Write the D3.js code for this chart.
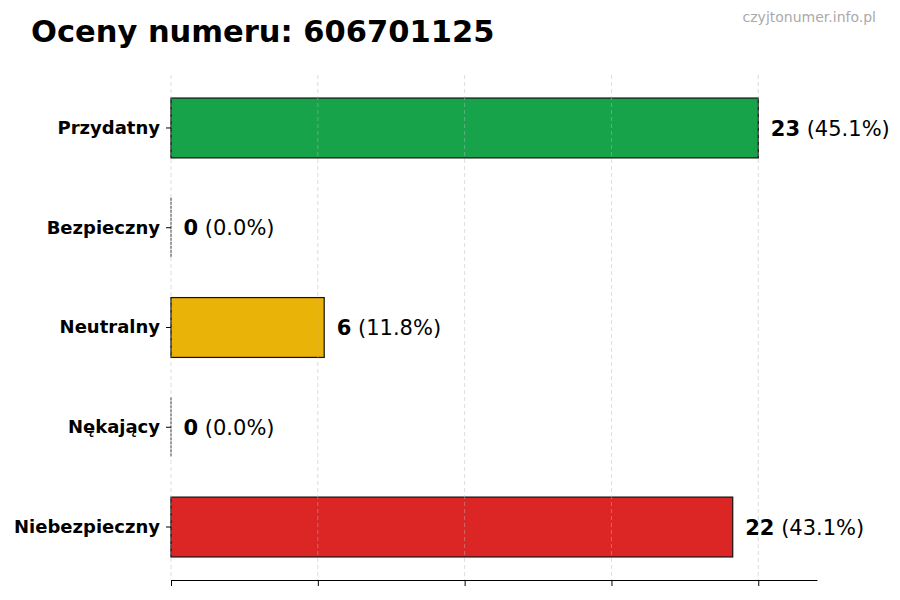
<!DOCTYPE html>
<html>
<head>
<meta charset="utf-8">
<script src="https://cdn.jsdelivr.net/npm/d3@7"></script>
<style>
  body { margin: 0; background: #fff; }
  text { font-family: "DejaVu Sans", sans-serif; }
</style>
</head>
<body>
<div id="chart"></div>
<script>
const categories = ["Przydatny", "Bezpieczny", "Neutralny", "Nękający", "Niebezpieczny"];
const counts = [23, 0, 6, 0, 22];
const barColors = ["#16a34a", "#22c55e", "#eab308", "#f97316", "#dc2626"];
const chartTitle = "Oceny numeru: 606701125";
const watermark = "czyjtonumer.info.pl";

const W = 900, H = 600;
const margin = { top: 75, right: 83, bottom: 20, left: 171 };

const svg = d3.select("#chart").append("svg")
  .attr("width", W)
  .attr("height", H);

const total = d3.sum(counts);
const maxVal = d3.max(counts);

const x = d3.scaleLinear()
  .domain([0, maxVal * 1.1])
  .range([margin.left, W - margin.right]);

const y = d3.scaleBand()
  .domain(categories)
  .range([margin.top, H - margin.bottom])
  .paddingInner(0.4)
  .paddingOuter(0.231);

const gridTicks = d3.range(5).map(i => maxVal * i / 4);

// bars
svg.selectAll("rect.bar")
  .data(categories)
  .enter()
  .append("rect")
  .attr("class", "bar")
  .attr("x", x(0))
  .attr("y", d => y(d))
  .attr("width", (d, i) => x(counts[i]) - x(0))
  .attr("height", y.bandwidth())
  .attr("fill", (d, i) => barColors[i])
  .attr("stroke", "#111")
  .attr("stroke-width", 1.2);

// left edge, so empty bars still show a line
svg.selectAll("line.edge")
  .data(categories)
  .enter()
  .append("line")
  .attr("class", "edge")
  .attr("x1", x(0)).attr("x2", x(0))
  .attr("y1", d => y(d))
  .attr("y2", d => y(d) + y.bandwidth())
  .attr("stroke", "#333")
  .attr("stroke-width", 1)
  .attr("stroke-dasharray", "3,1");

// grid on top
svg.selectAll("line.grid")
  .data(gridTicks)
  .enter()
  .append("line")
  .attr("class", "grid")
  .attr("x1", d => x(d)).attr("x2", d => x(d))
  .attr("y1", margin.top)
  .attr("y2", H - margin.bottom)
  .attr("stroke", "#b8b8b8")
  .attr("stroke-opacity", 0.6)
  .attr("stroke-width", 0.8)
  .attr("stroke-dasharray", "4,3");

// bottom axis, no labels
const xAxis = svg.append("g")
  .attr("transform", `translate(0,${H - margin.bottom})`)
  .call(d3.axisBottom(x).tickValues(gridTicks).tickSize(6).tickFormat("").tickSizeOuter(0));
xAxis.select(".domain").attr("stroke", "#000").attr("stroke-width", 1.2);
xAxis.selectAll(".tick line").attr("stroke", "#000").attr("stroke-width", 1);

// left axis, ticks only
const yAxis = svg.append("g")
  .attr("transform", `translate(${margin.left},0)`)
  .call(d3.axisLeft(y).tickSize(5).tickPadding(6).tickSizeOuter(0));
yAxis.select(".domain").remove();
yAxis.selectAll(".tick line").attr("stroke", "#000");
yAxis.selectAll(".tick text")
  .attr("font-family", "DejaVu Sans")
  .attr("font-size", "18px")
  .attr("font-weight", "bold")
  .attr("fill", "#000");

// value labels
const labels = svg.selectAll("text.val")
  .data(categories)
  .enter()
  .append("text")
  .attr("class", "val")
  .attr("x", (d, i) => x(counts[i]) + 12.5)
  .attr("y", d => y(d) + y.bandwidth() / 2)
  .attr("dy", "0.36em")
  .attr("font-size", "21px")
  .attr("fill", "#000");
labels.append("tspan")
  .attr("font-weight", "bold")
  .text((d, i) => counts[i]);
labels.append("tspan")
  .text((d, i) => " (" + (counts[i] / total * 100).toFixed(1) + "%)");

// title
svg.append("text")
  .attr("x", 31)
  .attr("y", 41.5)
  .attr("font-size", "30.5px")
  .attr("font-weight", "bold")
  .attr("fill", "#000")
  .text(chartTitle);

svg.append("text")
  .attr("x", 876)
  .attr("y", 22)
  .attr("text-anchor", "end")
  .attr("font-size", "14px")
  .attr("fill", "#aaaaaa")
  .text(watermark);
</script>
</body>
</html>
